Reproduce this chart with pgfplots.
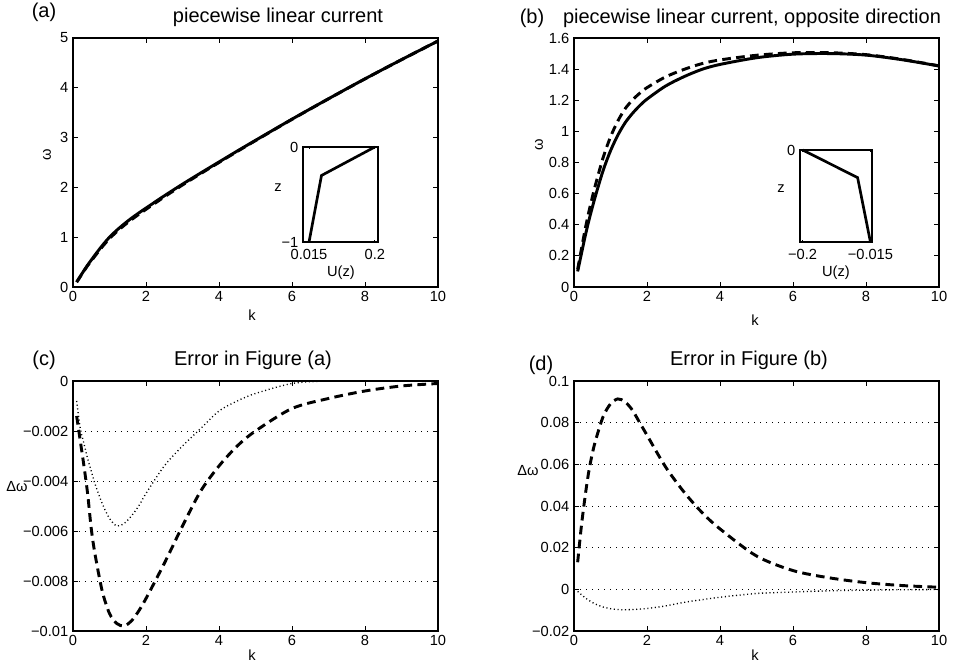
\documentclass[border=0pt]{standalone}
\usepackage{fontspec}
\setmainfont{Liberation Sans}
\usepackage{pgfplots}
\pgfplotsset{compat=1.18}
\usepackage{pgfplotstable}

% panel (a): solid and dashed dispersion curves
\pgfplotstableread{
k s d
0.1 0.100 0.096
0.2 0.215 0.208
0.3 0.330 0.320
0.4 0.440 0.427
0.5 0.540 0.522
0.6 0.640 0.619
0.8 0.830 0.805
1.0 1.000 0.972
1.2 1.140 1.111
1.4 1.265 1.236
1.6 1.380 1.351
1.8 1.485 1.457
2.0 1.585 1.559
2.5 1.830 1.808
3.0 2.065 2.048
3.5 2.290 2.277
4.0 2.510 2.500
4.5 2.730 2.722
5.0 2.945 2.939
6.0 3.370 3.367
7.0 3.780 3.778
8.0 4.180 4.179
9.0 4.565 4.564
10 4.940 4.940
}\tabA

% panel (b)
\pgfplotstableread{
k s d
0.1 0.100 0.113
0.2 0.210 0.240
0.3 0.320 0.364
0.4 0.420 0.476
0.5 0.510 0.575
0.6 0.595 0.667
0.8 0.750 0.833
1.0 0.875 0.964
1.2 0.975 1.066
1.4 1.055 1.145
1.6 1.115 1.201
1.8 1.165 1.245
2.0 1.207 1.281
2.5 1.290 1.349
3.0 1.350 1.397
3.5 1.398 1.435
4.0 1.430 1.459
5.0 1.473 1.489
6.0 1.496 1.505
7.0 1.500 1.5055
8.0 1.490 1.493
9.0 1.460 1.462
10 1.420 1.421
}\tabB

% panel (c): errors
\pgfplotstableread{
k d t
0.1 -0.0014 -0.0008
0.2 -0.0024 -0.0019
0.3 -0.0034 -0.0025
0.4 -0.0045 -0.0031
0.5 -0.0059 -0.0036
0.6 -0.0069 -0.0041
0.8 -0.0084 -0.0049
1.0 -0.0093 -0.0055
1.2 -0.0097 -0.0058
1.4 -0.0098 -0.0057
1.6 -0.0096 -0.0054
1.8 -0.0092 -0.0050
2.0 -0.0087 -0.0045
2.5 -0.0073 -0.0034
3.0 -0.0058 -0.0026
3.5 -0.0044 -0.0019
4.0 -0.0034 -0.0012
4.5 -0.0026 -0.0008
5.0 -0.0020 -0.0005
6.0 -0.0011 -0.0001
7.0 -0.0007 0
8.0 -0.0004 0
9.0 -0.0002 0
10 -0.0001 0
}\tabC

% panel (d): errors
\pgfplotstableread{
k d t
0.1 0.013 -0.0010
0.2 0.030 -0.0025
0.3 0.044 -0.0040
0.4 0.056 -0.0052
0.5 0.065 -0.0063
0.6 0.072 -0.0072
0.8 0.083 -0.0085
1.0 0.089 -0.0093
1.2 0.0914 -0.0097
1.4 0.090 -0.0098
1.6 0.086 -0.0097
1.8 0.080 -0.0095
2.0 0.074 -0.0092
2.5 0.059 -0.0080
3.0 0.047 -0.0063
3.5 0.037 -0.0050
4.0 0.029 -0.0038
5.0 0.016 -0.0020
6.0 0.009 -0.0013
7.0 0.0055 -0.0007
8.0 0.0032 -0.0004
9.0 0.0018 -0.0002
10 0.001 -0.0001
}\tabD

\pgfplotsset{
  common/.style={
    scale only axis, anchor=south west,
    tick align=inside,
    scaled ticks=false,
    axis line style={line width=0.8pt},
    every tick/.style={black, line width=0.6pt},
    tick label style={font=\fontsize{11}{13}\selectfont},
  },
  mainax/.style={common, width=273.75pt, height=186.75pt,
    xmin=0, xmax=10, xtick={0,2,4,6,8,10}, xticklabels={0,2,4,6,8,10},
    major tick length=3.5pt},
  gridax/.style={mainax, height=187.5pt, ymajorgrids,
    major grid style={black, line width=0.5pt, dash pattern=on 0.6pt off 3.9pt}},
  inset/.style={common, major tick length=1.5pt, clip=false,
    axis background/.style={fill=white},
    xticklabel style={yshift=-2pt}},
  solidline/.style={black, line width=2.2pt, smooth},
  dashline/.style={black, line width=2.2pt, smooth, dash pattern=on 6.5pt off 4pt},
  dotline/.style={black, line width=1pt, smooth, dash pattern=on 0.8pt off 2pt},
  profline/.style={black, line width=2pt},
}

\begin{document}
\begin{tikzpicture}
\useasboundingbox (0pt,0pt) rectangle (718.5pt,499.5pt);

% ---------- (a)
\begin{axis}[mainax, at={(54.75pt,284.25pt)}, ymin=0, ymax=5,
  ytick={0,1,2,3,4,5}, yticklabels={0,1,2,3,4,5}]
\addplot[dashline] table[x=k,y=d] {\tabA};
\addplot[solidline] table[x=k,y=s] {\tabA};
\end{axis}
\begin{axis}[inset, at={(227.25pt,318pt)}, width=56.25pt, height=71.25pt,
  xmin=-0.002, xmax=0.209, ymin=-1, ymax=0,
  xtick={0.015,0.2}, xticklabels={0.015,0.2},
  ytick={-1,0}, yticklabels={−1,0}]
\addplot[profline] coordinates {(0.015,-1) (0.05,-0.3) (0.2,0)};
\end{axis}

% ---------- (b)
\begin{axis}[mainax, at={(430.5pt,284.25pt)}, ymin=0, ymax=1.6,
  ytick={0,0.2,0.4,0.6,0.8,1,1.2,1.4,1.6},
  yticklabels={0,0.2,0.4,0.6,0.8,1,1.2,1.4,1.6}]
\addplot[dashline] table[x=k,y=d] {\tabB};
\addplot[solidline] table[x=k,y=s] {\tabB};
\end{axis}
\begin{axis}[inset, at={(600pt,318pt)}, width=54pt, height=69pt,
  xmin=-0.207, xmax=-0.0107, ymin=-1, ymax=0,
  xtick={-0.2,-0.015}, xticklabels={−0.2,−0.015},
  ytick={0}, yticklabels={0}]
\addplot[profline] coordinates {(-0.2,0) (-0.05,-0.3) (-0.015,-1)};
\end{axis}

% ---------- (c)
\begin{axis}[gridax, at={(54.75pt,26.25pt)}, ymin=-0.01, ymax=0,
  ytick={-0.01,-0.008,-0.006,-0.004,-0.002,0},
  yticklabels={−0.01,−0.008,−0.006,−0.004,−0.002,0}]
\addplot[dotline] table[x=k,y=t] {\tabC};
\addplot[dashline] table[x=k,y=d] {\tabC};
\end{axis}

% ---------- (d)
\begin{axis}[gridax, at={(430.5pt,26.25pt)}, ymin=-0.02, ymax=0.1,
  ytick={-0.02,0,0.02,0.04,0.06,0.08,0.1},
  yticklabels={−0.02,0,0.02,0.04,0.06,0.08,0.1}]
\addplot[dotline] table[x=k,y=t] {\tabD};
\addplot[dashline] table[x=k,y=d] {\tabD};
\end{axis}

% ---------- titles and labels
\begin{scope}[every node/.style={inner sep=0pt}]
\node[font=\fontsize{15}{17}\selectfont] at (33pt,490.5pt) {(a)};
\node[font=\fontsize{15}{17}\selectfont] at (208.5pt,486.75pt) {piecewise linear current};
\node[font=\fontsize{15}{17}\selectfont] at (399pt,486pt) {(b)};
\node[font=\fontsize{15}{17}\selectfont] at (564pt,486pt) {piecewise linear current, opposite direction};
\node[font=\fontsize{15}{17}\selectfont] at (33pt,229.5pt) {(c)};
\node[font=\fontsize{15}{17}\selectfont] at (189.75pt,229.5pt) {Error in Figure (a)};
\node[font=\fontsize{15}{17}\selectfont] at (405.75pt,225.75pt) {(d)};
\node[font=\fontsize{15}{17}\selectfont] at (561.75pt,229.5pt) {Error in Figure (b)};

\node[font=\fontsize{11}{13}\selectfont] at (189pt,263.25pt) {k};
\node[font=\fontsize{11}{13}\selectfont, rotate=90] at (35.25pt,383.25pt) {ω};
\node[font=\fontsize{11}{13}\selectfont] at (566.25pt,259.5pt) {k};
\node[font=\fontsize{11}{13}\selectfont, rotate=90] at (404.25pt,390.75pt) {ω};
\node[font=\fontsize{11}{13}\selectfont] at (208.5pt,358.5pt) {z};
\node[font=\fontsize{11}{13}\selectfont] at (255.75pt,294.75pt) {U(z)};
\node[font=\fontsize{11}{13}\selectfont] at (585.75pt,357.75pt) {z};
\node[font=\fontsize{11}{13}\selectfont] at (627pt,294.75pt) {U(z)};
\node[font=\fontsize{11}{13}\selectfont] at (189pt,8.25pt) {k};
\node[font=\fontsize{11}{13}\selectfont] at (12.75pt,134.25pt) {Δω};
\node[font=\fontsize{11}{13}\selectfont] at (566.25pt,8.25pt) {k};
\node[font=\fontsize{11}{13}\selectfont] at (396pt,146.25pt) {Δω};
\end{scope}
\end{tikzpicture}
\end{document}
